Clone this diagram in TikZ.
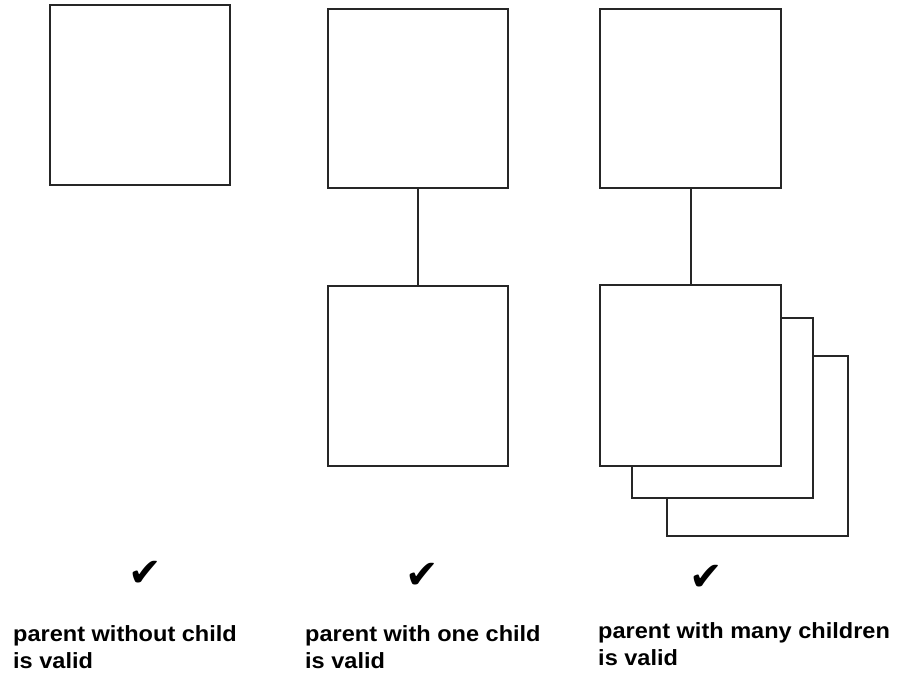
\documentclass[tikz,border=0pt]{standalone}
\usepackage{fontspec}
\setmainfont{Liberation Sans}[FakeStretch=1.07]
\newfontfamily\symfont{DejaVu Sans}
\begin{document}
\begin{tikzpicture}[x=1pt,y=-1pt,
  entity/.style={draw=black!85, line width=2pt, fill=white, rectangle,
                 inner sep=0pt, outer sep=0pt,
                 minimum width=180pt, minimum height=180pt},
  link/.style={draw=black!85, line width=2pt},
  tick/.style={inner sep=0pt, font=\symfont\fontsize{40}{40}\selectfont},
  caption/.style={anchor=base west, inner sep=0pt, align=left,
                  font=\bfseries\fontsize{22}{27}\selectfont}]
  \useasboundingbox (0,0) rectangle (908,673);

  % parent without child
  \node[entity] (solo) at (140,95) {};

  % parent with one child
  \node[entity, minimum height=179pt] (p1) at (418,98.5) {};
  \node[entity] (c1) at (418,376) {};
  \draw[link] (p1.south) -- (c1.north);

  % parent with many children: stacked child boxes, back to front
  \node[entity, minimum width=181pt] (c3) at (757,446) {};
  \node[entity, minimum width=181pt] (c2) at (722.5,408) {};
  \node[entity, minimum width=181pt, minimum height=181pt] (c0) at (690.5,375.5) {};
  \node[entity, minimum width=181pt, minimum height=179pt] (p2) at (690.5,98.5) {};
  \draw[link] (p2.south) -- (c0.north);

  % ticks
  \node[tick] (t1) at (145,574) {✔};
  \node[tick] (t2) at (422,576) {✔};
  \node[tick] (t3) at (706,578) {✔};

  % captions (anchored at the baseline of the last line)
  \node[caption] (l1) at (13,668) {parent without child\\is valid};
  \node[caption] (l2) at (305,668) {parent with one child\\is valid};
  \node[caption] (l3) at (598,665) {parent with many children\\is valid};
\end{tikzpicture}
\end{document}
